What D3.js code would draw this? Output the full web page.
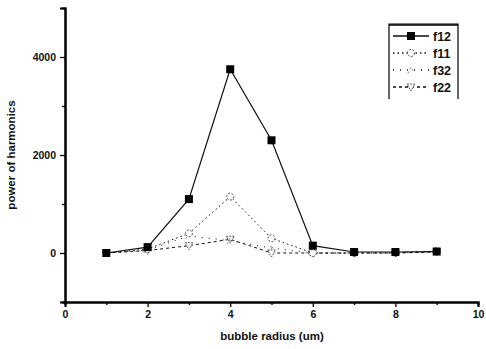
<!DOCTYPE html>
<html><head><meta charset="utf-8">
<script src="https://cdn.jsdelivr.net/npm/d3@7"></script>
<style>body{margin:0;background:#fff}svg{display:block}text{font-family:"Liberation Sans",Arial,sans-serif;font-weight:bold;fill:#111}</style>
</head><body><svg id="c" width="486" height="349"></svg>
<script>
const radius = [1,2,3,4,5,6,7,8,9];
const f12 = [0,120,1100,3750,2300,150,20,20,30];
const f11 = [0,80,400,1150,300,0,0,0,40];
const f32 = [0,60,350,250,100,0,0,0,30];
const f22 = [0,50,150,280,0,0,0,0,20];
const xTicks = [0,2,4,6,8,10];
const yTicks = [0,2000,4000];
const seriesNames = ["f12","f11","f32","f22"];

const svg = d3.select("#c");
const x = d3.scaleLinear().domain([0,10]).range([65,478]);
const y = d3.scaleLinear().domain([-1000,5000]).range([302,8]);

svg.append("g").attr("transform","translate(65,0)")
  .call(d3.axisLeft(y).tickValues(yTicks).tickSize(5).tickPadding(4).tickFormat(d3.format("d")));
svg.append("g").attr("transform","translate(65,0)")
  .call(d3.axisLeft(y).tickValues([-1000,1000,3000]).tickSize(3).tickFormat(""));
svg.append("g").attr("transform","translate(0,302)")
  .call(d3.axisBottom(x).tickValues(xTicks).tickSize(5).tickPadding(4).tickFormat(d3.format("d")));
svg.append("g").attr("transform","translate(0,302)")
  .call(d3.axisBottom(x).tickValues([1,3,5,7,9]).tickSize(3).tickFormat(""));
svg.selectAll(".domain").attr("stroke","#000").attr("stroke-width",2);
svg.selectAll(".tick line").attr("stroke","#000").attr("stroke-width",1.3);
svg.selectAll(".tick text").style("font-size","10.5px");

svg.append("text").attr("transform","translate(15,155) rotate(-90)").attr("text-anchor","middle")
  .style("font-size","11.5px").text("power of harmonics");
svg.append("text").attr("x",272).attr("y",340).attr("text-anchor","middle")
  .style("font-size","11.5px").text("bubble radius (um)");

const series = [
  {name:seriesNames[0], v:f12, dash:null, w:1.2, mark:"square"},
  {name:seriesNames[1], v:f11, dash:"1.5,3", w:1, mark:"circle"},
  {name:seriesNames[2], v:f32, dash:"1,6", w:1, mark:"up"},
  {name:seriesNames[3], v:f22, dash:"3,3", w:1, mark:"down"}
];
const line = d3.line().x((d,i)=>x(radius[i])).y(d=>y(d));
function marker(g, type, cx, cy){
  if(type==="square") g.append("rect").attr("x",cx-4).attr("y",cy-4).attr("width",8).attr("height",8).attr("fill","#000");
  else if(type==="circle") g.append("circle").attr("cx",cx).attr("cy",cy).attr("r",3.5).attr("fill","#fff").attr("stroke","#222").attr("stroke-width",0.8).attr("stroke-dasharray","2,1.5");
  else if(type==="up") g.append("path").attr("d",`M${cx-3},${cy+3}L${cx},${cy-3}L${cx+3},${cy+3}`).attr("fill","none").attr("stroke","#444").attr("stroke-width",0.8).attr("stroke-dasharray","1.5,3");
  else g.append("path").attr("d",`M${cx-4},${cy-3}L${cx+4},${cy-3}L${cx},${cy+4}Z`).attr("fill","#fff").attr("stroke","#333").attr("stroke-width",0.8).attr("stroke-dasharray","2,1");
}
series.slice().reverse().forEach(s=>{
  const g = svg.append("g");
  g.append("path").datum(s.v).attr("d",line).attr("fill","none").attr("stroke","#111")
    .attr("stroke-width",s.w).attr("stroke-dasharray",s.dash);
  s.v.forEach((d,i)=>marker(g,s.mark,x(radius[i]),y(d)));
});

const lg = svg.append("g");
lg.append("path").attr("d","M389,99V24H458V99").attr("fill","none").attr("stroke","#000").attr("stroke-width",1.2);
lg.append("line").attr("x1",389).attr("x2",458).attr("y1",25).attr("y2",25).attr("stroke","#000").attr("stroke-width",1.5);
series.forEach((s,i)=>{
  const yy = 36 + i*17;
  lg.append("line").attr("x1",393).attr("x2",429).attr("y1",yy).attr("y2",yy).attr("stroke","#111")
    .attr("stroke-width",s.w*1.3).attr("stroke-dasharray",s.dash);
  marker(lg,s.mark,411,yy);
  lg.append("text").attr("x",433).attr("y",yy+4.5).style("font-size","12.5px").text(s.name);
});
</script></body></html>
